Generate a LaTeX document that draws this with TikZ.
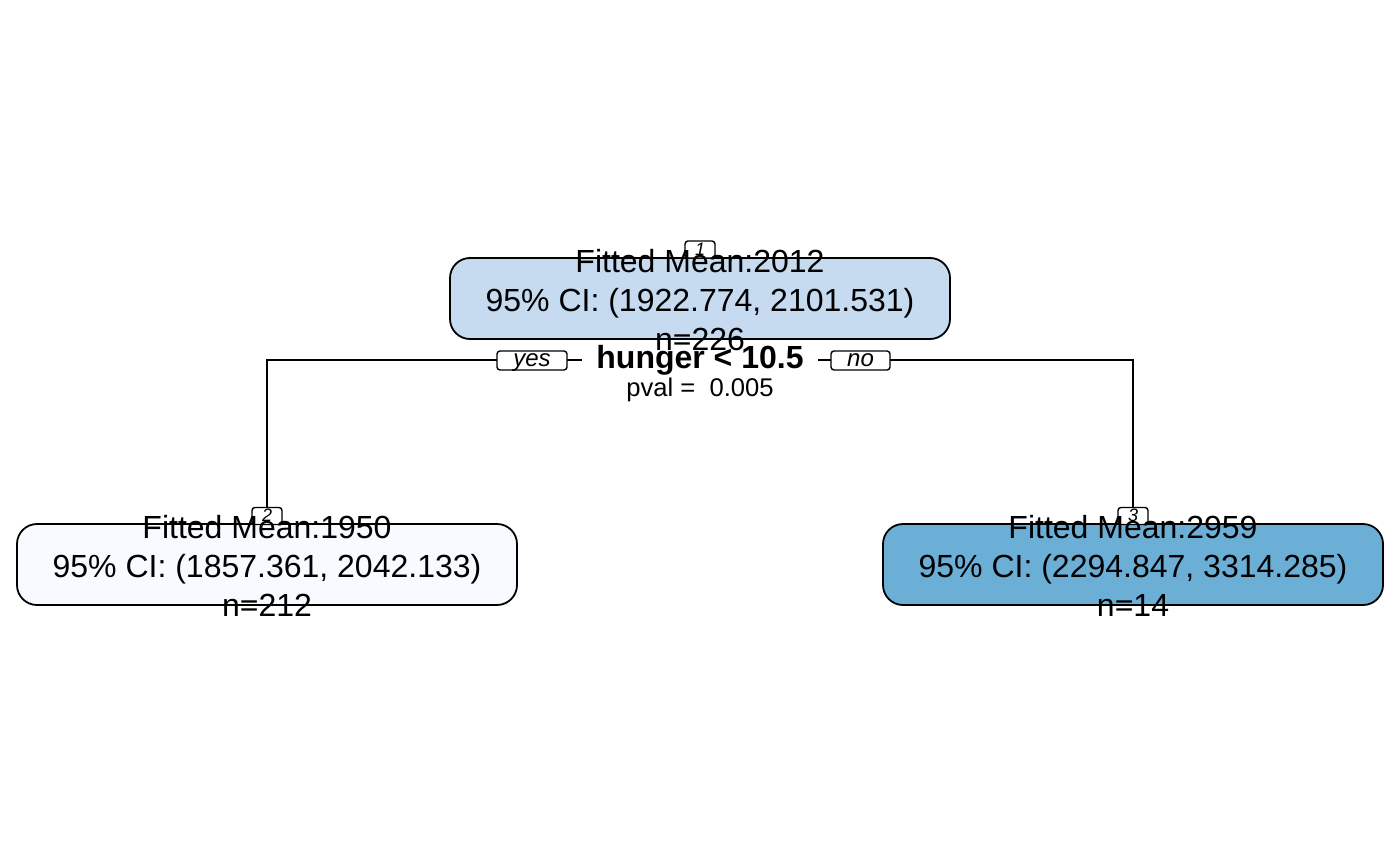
\documentclass[tikz,border=0pt]{standalone}
\usepackage{fontspec}
\setmainfont{Liberation Sans}
\definecolor{cRoot}{HTML}{C6DBEF}
\definecolor{cLeft}{HTML}{F7FBFF}
\definecolor{cRight}{HTML}{6BAED6}
\begin{document}
\begin{tikzpicture}[x=0.5pt,y=-0.5pt,
  treebox/.style={draw=black, line width=0.9pt, rounded corners=10pt, minimum width=250pt, minimum height=40.5pt, inner sep=0pt},
  numbox/.style={draw=black, fill=white, line width=0.7pt, rounded corners=1.5pt, minimum width=15pt, minimum height=8.5pt, inner sep=0pt, text height=5.5pt, text depth=0pt, font=\fontsize{9}{9}\selectfont\itshape},
  lbl/.style={anchor=base, inner sep=0pt, font=\fontsize{16}{16}\selectfont},
  edgelbl/.style={draw=black, fill=white, line width=0.7pt, rounded corners=1.5pt, minimum height=9.5pt, inner sep=0pt, text height=6pt, text depth=0pt, font=\fontsize{12}{12}\selectfont\itshape},
  conn/.style={line width=0.75pt}]
\useasboundingbox (0,0) rectangle (1400,866);
% tree boxes
\node[treebox, fill=cRoot] (b1) at (700,298.5) {};
\node[treebox, fill=cLeft] (b2) at (267,564.5) {};
\node[treebox, fill=cRight] (b3) at (1133,564.5) {};
% number boxes
\node[numbox] (n1) at (700,249.5) {1};
\node[numbox] (n2) at (267,516) {2};
\node[numbox] (n3) at (1133,516) {3};
% connectors
\coordinate (jl) at (267,360);
\coordinate (jr) at (1133,360);
\draw[conn] (n2.north) -- (jl) -- (jr) -- (n3.north);
% split label
\node[fill=white, inner xsep=7pt, inner ysep=1pt, anchor=base, font=\fontsize{16}{16}\selectfont\bfseries] (split) at (700,368) {hunger < 10.5};
\node[anchor=base, inner sep=0pt, font=\fontsize{12.8}{12.8}\selectfont] (pval) at (700,396) {pval =~ 0.005};
\node[edgelbl, minimum width=35pt] (yes) at (532,360.5) {yes};
\node[edgelbl, minimum width=29.5pt] (no) at (860.5,360.5) {no};
% texts
\node[lbl] (t1a) at (700,272) {Fitted Mean:2012};
\node[lbl] (t1b) at (700,311.5) {95\% CI: (1922.774, 2101.531)};
\node[lbl] (t1c) at (700,350.5) {n=226};
\node[lbl] (t2a) at (267,538) {Fitted Mean:1950};
\node[lbl] (t2b) at (267,577.5) {95\% CI: (1857.361, 2042.133)};
\node[lbl] (t2c) at (267,616.5) {n=212};
\node[lbl] (t3a) at (1133,538) {Fitted Mean:2959};
\node[lbl] (t3b) at (1133,577.5) {95\% CI: (2294.847, 3314.285)};
\node[lbl] (t3c) at (1133,616.5) {n=14};
\end{tikzpicture}
\end{document}
